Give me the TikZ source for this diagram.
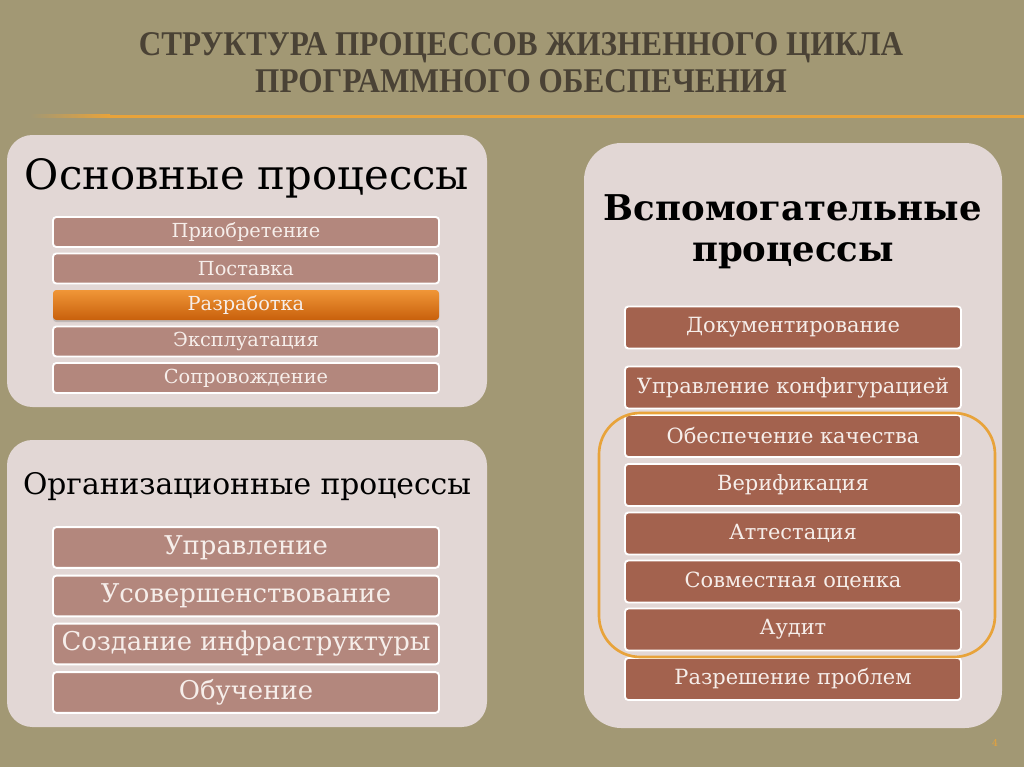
\documentclass[tikz,border=0pt]{standalone}
\usepackage{fontspec}
\setmainfont{DejaVu Serif}
\newfontfamily\titlefont[FakeStretch=0.9]{Liberation Serif}
\usetikzlibrary{shadows}
\definecolor{bgc}{RGB}{162,152,116}
\definecolor{panelc}{RGB}{226,215,213}
\definecolor{barl}{RGB}{179,135,125}
\definecolor{barr}{RGB}{163,98,78}
\definecolor{titlec}{RGB}{74,66,53}
\definecolor{accent}{RGB}{232,163,58}
\definecolor{bartext}{RGB}{246,238,234}
\definecolor{orangetop}{RGB}{240,150,55}
\definecolor{orangebot}{RGB}{200,96,12}
\tikzset{
  panel/.style={fill=panelc, rounded corners=19pt},
  barbox/.style={draw=white, line width=1.4pt, rounded corners=2.5pt, text=bartext,
    inner sep=0pt, align=center},
  lbar/.style={barbox, fill=barl, minimum width=289.5pt, minimum height=22.5pt, font=\fontsize{14.5}{16}\selectfont},
  obar/.style={barbox, draw=none, top color=orangetop, bottom color=orangebot,
    minimum width=289.5pt, minimum height=22.5pt, font=\fontsize{14.5}{16}\selectfont,
    drop shadow={shadow xshift=0pt, shadow yshift=-1.5pt, opacity=0.35}},
  lbbar/.style={barbox, fill=barl, minimum width=289.5pt, minimum height=30.5pt, font=\fontsize{19.4}{22}\selectfont},
  rbar/.style={barbox, fill=barr, minimum width=252pt, minimum height=31.5pt, font=\fontsize{15.7}{18}\selectfont},
  heading/.style={text=black, inner sep=0pt, align=center},
}
\begin{document}
\begin{tikzpicture}[x=0.75pt, y=-0.75pt]
\useasboundingbox (0,0) rectangle (1024,767);
\fill[bgc] (0,0) rectangle (1024,767);

% title
\node[text=titlec, inner sep=0pt, align=center, font=\titlefont\bfseries\fontsize{26}{28}\selectfont] (title) at (521,63)
  {СТРУКТУРА ПРОЦЕССОВ ЖИЗНЕННОГО ЦИКЛА\\ПРОГРАММНОГО ОБЕСПЕЧЕНИЯ};
% orange rule
\shade[left color=bgc, right color=accent] (30,114.5) rectangle (110,117.5);
\fill[accent] (110,114.5) rectangle (1024,117.5);

% panels
\fill[panel] (7,135) rectangle (487,407);
\fill[panel] (7,440) rectangle (487,727);
\fill[panelc, rounded corners=28pt] (584,143) rectangle (1002,728);

% main processes
\node[heading, font=\fontsize{31.3}{36}\selectfont] (h1) at (247,178) {Основные процессы};
\node[lbar] (b11) at (246,232) {Приобретение};
\node[lbar] (b12) at (246,268.5) {Поставка};
\node[obar] (b13) at (246,305) {Разработка};
\node[lbar] (b14) at (246,341.5) {Эксплуатация};
\node[lbar] (b15) at (246,378) {Сопровождение};

% organizational processes
\node[heading, font=\fontsize{22.3}{26}\selectfont] (h2) at (247,487) {Организационные процессы};
\node[lbbar] (b21) at (246,547.5) {Управление};
\node[lbbar] (b22) at (246,596) {Усовершенствование};
\node[lbbar] (b23) at (246,644) {Создание инфраструктуры};
\node[lbbar] (b24) at (246,692.5) {Обучение};

% supporting processes
\node[heading, font=\bfseries\fontsize{26.6}{31}\selectfont] (h3) at (793,232) {Вспомогательные\\процессы};
\node[rbar] (r1) at (793,327.5) {Документирование};
\node[rbar] (r2) at (793,387.5) {Управление конфигурацией};
\node[rbar] (r3) at (793,436) {Обеспечение качества};
\node[rbar] (r4) at (793,485) {Верификация};
\node[rbar] (r5) at (793,533.5) {Аттестация};
\node[rbar] (r6) at (793,581.5) {Совместная оценка};
\node[rbar] (r7) at (793,629.5) {Аудит};
\node[rbar] (r8) at (793,679) {Разрешение проблем};

% highlight frame
\draw[accent, line width=2pt, rounded corners=31pt] (599,413) rectangle (995,657);

% page number
\node[text=accent, inner sep=0pt, font=\fontsize{7}{8}\selectfont] (pg) at (995,743) {4};
\end{tikzpicture}
\end{document}
